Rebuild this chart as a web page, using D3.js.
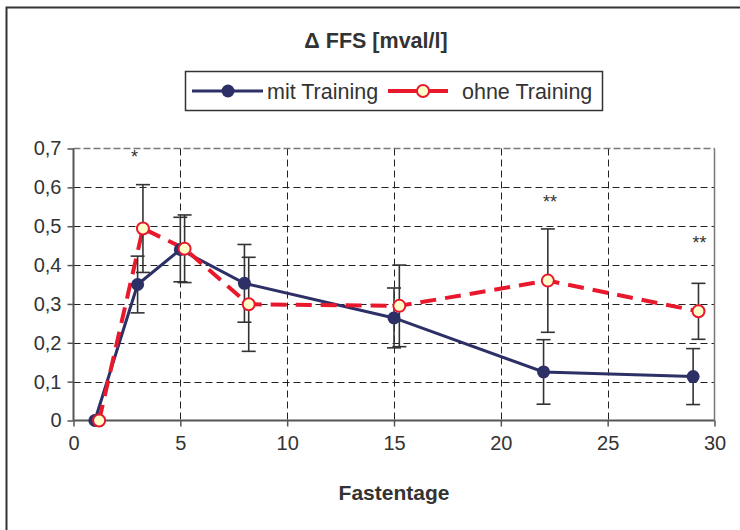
<html>
<head>
<script src="https://cdn.jsdelivr.net/npm/d3@7"></script>
<style>
  body { margin: 0; background: #fff; }
  text { font-family: "Liberation Sans", Arial, sans-serif; fill: #333; }
</style>
</head>
<body>
<svg id="cont" width="740" height="530"></svg>
<script>
// data
var mitDays  = [1, 3, 5, 8, 15, 22, 29];
var mitVals  = [0, 0.35, 0.44, 0.353, 0.264, 0.125, 0.113];
var mitErr   = [0, 0.073, 0.083, 0.1, 0.077, 0.083, 0.072];

var ohneDays = [1.2, 3.25, 5.2, 8.2, 15.25, 22.2, 29.25];
var ohneVals = [0, 0.494, 0.442, 0.299, 0.295, 0.36, 0.281];
var ohneErr  = [0, 0.113, 0.087, 0.121, 0.105, 0.133, 0.072];

var starLabels = ["*", "**", "**"];
var starDays   = [2.85, 22.3, 29.3];
var starVals   = [0.662, 0.546, 0.442];

var xTicks = [0, 5, 10, 15, 20, 25, 30];
var yTicks = [0, 0.1, 0.2, 0.3, 0.4, 0.5, 0.6, 0.7];

var svg = d3.select("#cont");

// outer chart frame (only top and left edges visible)
svg.append("path")
  .attr("d", "M6.5,530 L6.5,7.5 L740,7.5")
  .attr("fill", "none").attr("stroke", "#333").attr("stroke-width", 2);

var x = d3.scaleLinear().domain([0, 30]).range([73.5, 714.5]);
var y = d3.scaleLinear().domain([0, 0.7]).range([420.5, 148.5]);

var g = svg.append("g");

// grid
g.selectAll(".hg").data(yTicks.slice(1, -1)).enter().append("line")
  .attr("x1", x(0)).attr("x2", x(30))
  .attr("y1", d => Math.round(y(d)) + 0.5).attr("y2", d => Math.round(y(d)) + 0.5)
  .attr("stroke", "#222").attr("stroke-dasharray", "7,4").attr("stroke-width", 1);
g.selectAll(".vg").data(xTicks.slice(1, -1)).enter().append("line")
  .attr("x1", d => Math.round(x(d)) + 0.5).attr("x2", d => Math.round(x(d)) + 0.5)
  .attr("y1", y(0.7)).attr("y2", y(0))
  .attr("stroke", "#222").attr("stroke-dasharray", "7,4").attr("stroke-width", 1);

// top and right of plot area
g.append("line").attr("x1", x(0)).attr("x2", x(30)).attr("y1", y(0.7)).attr("y2", y(0.7))
  .attr("stroke", "#777").attr("stroke-dasharray", "7,3").attr("stroke-width", 1.5);
g.append("line").attr("x1", x(30)).attr("x2", x(30)).attr("y1", y(0.7)).attr("y2", y(0))
  .attr("stroke", "#777").attr("stroke-width", 1.5);

// axes
var yAxis = d3.axisLeft(y).tickValues(yTicks).tickSize(6).tickPadding(6)
  .tickFormat(d => d === 0 ? "0" : d3.format(".1f")(d).replace(".", ","));
var xAxis = d3.axisBottom(x).tickValues(xTicks).tickSize(6).tickPadding(9);

var ya = g.append("g").attr("transform", "translate(" + x(0) + ",0)").call(yAxis);
var xa = g.append("g").attr("transform", "translate(0," + y(0) + ")").call(xAxis);
[ya, xa].forEach(function (a) {
  a.select(".domain").attr("stroke", "#555").attr("stroke-width", 2);
  a.selectAll(".tick line").attr("stroke", "#555").attr("stroke-width", 1.5);
  a.selectAll(".tick text").attr("fill", "#333").style("font-size", "20px");
});
ya.select(".domain").attr("d", "M0," + (y(0.7)) + "V" + (y(0)));
xa.select(".domain").attr("d", "M" + x(0) + ",0H" + x(30));

// series
var mit = mitDays.map((d, i) => ({ x: d, y: mitVals[i], e: mitErr[i] }));
var ohne = ohneDays.map((d, i) => ({ x: d, y: ohneVals[i], e: ohneErr[i] }));

var line = d3.line().x(d => x(d.x)).y(d => y(d.y));

g.append("path").datum(mit).attr("d", line)
  .attr("fill", "none").attr("stroke", "#2d3066").attr("stroke-width", 3);
g.append("path").datum(ohne).attr("d", line)
  .attr("fill", "none").attr("stroke", "#e8192c").attr("stroke-width", 4)
  .attr("stroke-dasharray", "16,9");

function errBars(data) {
  var eb = g.append("g").selectAll("g").data(data.filter(d => d.e > 0)).enter().append("g")
    .attr("stroke", "#333").attr("stroke-width", 1.6);
  eb.append("line").attr("x1", d => x(d.x)).attr("x2", d => x(d.x))
    .attr("y1", d => y(d.y + d.e)).attr("y2", d => y(d.y - d.e));
  eb.append("line").attr("x1", d => x(d.x) - 7).attr("x2", d => x(d.x) + 7)
    .attr("y1", d => y(d.y + d.e)).attr("y2", d => y(d.y + d.e));
  eb.append("line").attr("x1", d => x(d.x) - 7).attr("x2", d => x(d.x) + 7)
    .attr("y1", d => y(d.y - d.e)).attr("y2", d => y(d.y - d.e));
}
errBars(mit);
errBars(ohne);

g.selectAll(".mm").data(mit).enter().append("circle")
  .attr("cx", d => x(d.x)).attr("cy", d => y(d.y)).attr("r", 6.5)
  .attr("fill", "#2d3066");
g.selectAll(".om").data(ohne).enter().append("circle")
  .attr("cx", d => x(d.x)).attr("cy", d => y(d.y)).attr("r", 6)
  .attr("fill", "#ffffcc").attr("stroke", "#e8192c").attr("stroke-width", 2);

// significance stars
g.selectAll(".star").data(starLabels).enter().append("text")
  .attr("x", (d, i) => x(starDays[i])).attr("y", (d, i) => y(starVals[i]))
  .attr("text-anchor", "middle").style("font-size", "18px").text(d => d);

// title
svg.append("text").attr("x", 376).attr("y", 48).attr("text-anchor", "middle")
  .style("font-size", "21.5px").style("font-weight", "bold").text("\u0394 FFS [mval/l]");

// x label
svg.append("text").attr("x", (x(0) + x(30)) / 2).attr("y", 500).attr("text-anchor", "middle")
  .style("font-size", "21px").style("font-weight", "bold").text("Fastentage");

// legend
var lg = svg.append("g");
lg.append("rect").attr("x", 185.5).attr("y", 71.5).attr("width", 417).attr("height", 39)
  .attr("fill", "#fff").attr("stroke", "#333").attr("stroke-width", 1.5);
lg.append("line").attr("x1", 192).attr("x2", 263).attr("y1", 91).attr("y2", 91)
  .attr("stroke", "#2d3066").attr("stroke-width", 3);
lg.append("circle").attr("cx", 228).attr("cy", 91).attr("r", 6.5).attr("fill", "#2d3066");
lg.append("text").attr("x", 267).attr("y", 98.5).style("font-size", "21.5px").text("mit Training");
lg.append("line").attr("x1", 388).attr("x2", 448).attr("y1", 91).attr("y2", 91)
  .attr("stroke", "#e8192c").attr("stroke-width", 4);
lg.append("circle").attr("cx", 423).attr("cy", 91).attr("r", 6)
  .attr("fill", "#ffffcc").attr("stroke", "#e8192c").attr("stroke-width", 2);
lg.append("text").attr("x", 462).attr("y", 98.5).style("font-size", "21.5px").text("ohne Training");
</script>
</body>
</html>
